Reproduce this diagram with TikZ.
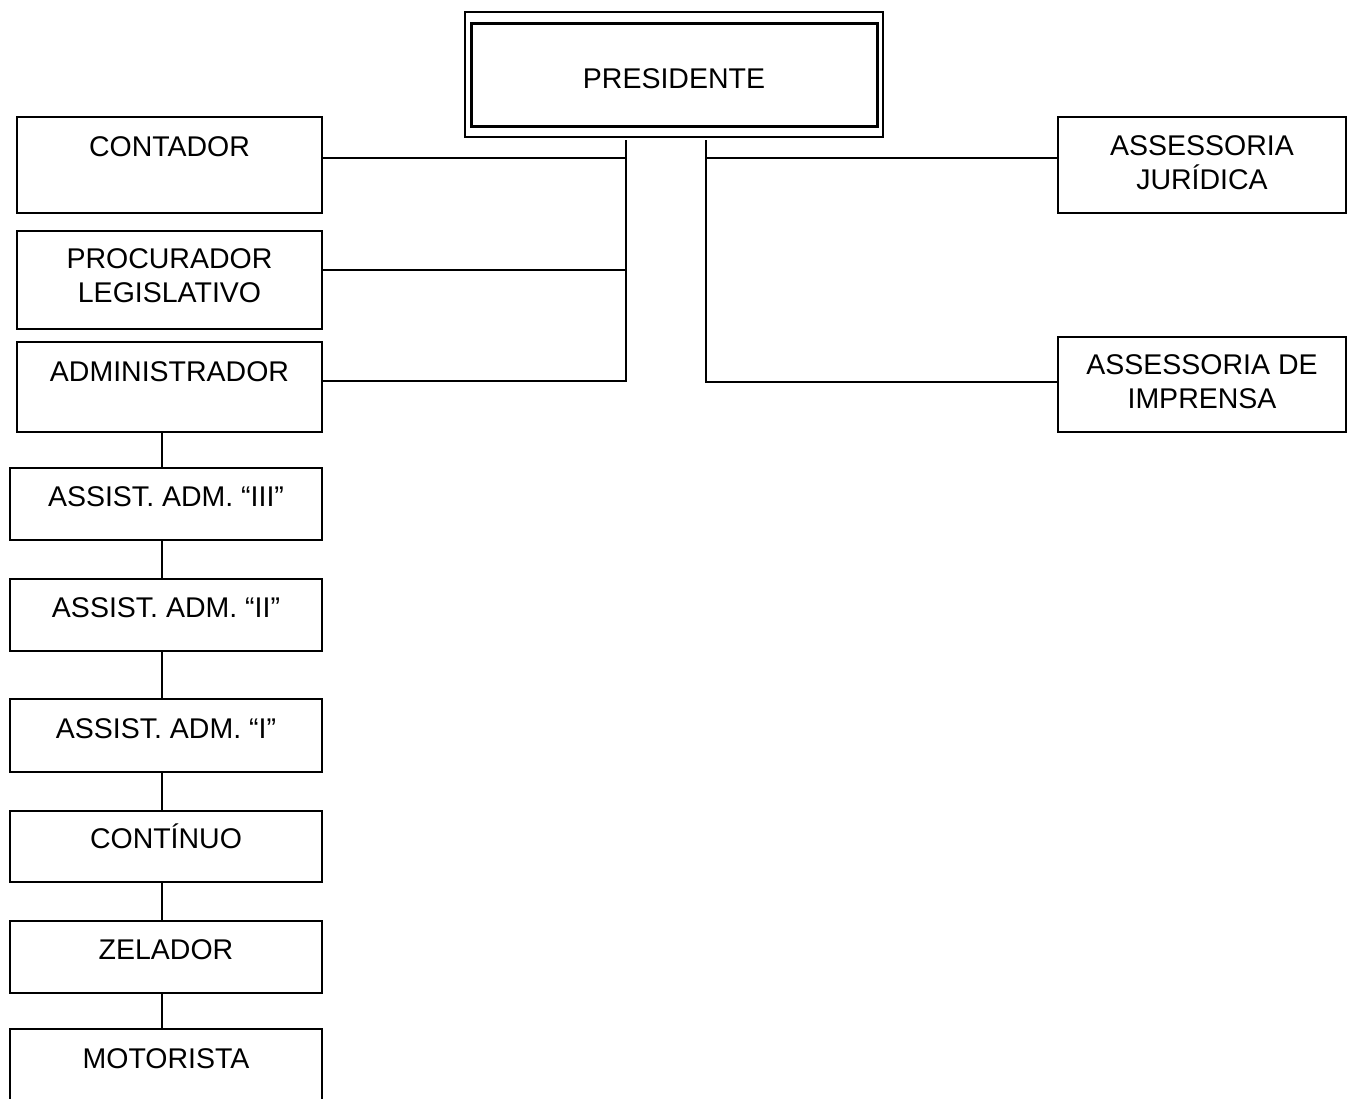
\documentclass[tikz,border=0pt]{standalone}
\usepackage{fontspec}
\setmainfont{Liberation Sans}
\begin{document}
\begin{tikzpicture}[x=1pt,y=-1pt,
  every node/.style={font=\fontsize{28.5}{34}\selectfont},
  box/.style={draw, line width=1.8pt, inner xsep=0pt, inner ysep=0pt, outer sep=0pt, align=center, anchor=north west},
  link/.style={line width=1.8pt}]
\useasboundingbox (0,0) rectangle (1355,1098);
\clip (0,0) rectangle (1355,1098);
\fill[white] (0,0) rectangle (1355,1098);

% president
\node[box, line width=3pt, minimum width=406pt, text height=65pt, text depth=38pt] (pres) at (471,23) {PRESIDENTE};
\draw[line width=1.6pt] ([shift={(-6,-11)}]pres.north west) rectangle ([shift={(6,11)}]pres.south east);

% left upper boxes
\node[box, minimum width=305pt, text height=39pt, text depth=57pt] (cont) at (17,117) {CONTADOR};
\node[box, minimum width=305pt, text height=71pt, text depth=27pt] (proc) at (17,231) {PROCURADOR\\LEGISLATIVO};
\node[box, minimum width=305pt, text height=39pt, text depth=51pt] (adm) at (17,342) {ADMINISTRADOR};

% right boxes
\node[box, minimum width=288pt, text height=72pt, text depth=24pt] (jur) at (1058,117) {ASSESSORIA\\JURÍDICA};
\node[box, minimum width=288pt, text height=71pt, text depth=24pt] (imp) at (1058,337) {ASSESSORIA DE\\IMPRENSA};

% lower chain
\node[box, minimum width=312pt, text height=38pt, text depth=34pt] (a3) at (10,468) {ASSIST. ADM. “III”};
\node[box, minimum width=312pt, text height=38pt, text depth=34pt] (a2) at (10,579) {ASSIST. ADM. “II”};
\node[box, minimum width=312pt, text height=39pt, text depth=34pt] (a1) at (10,699) {ASSIST. ADM. “I”};
\node[box, minimum width=312pt, text height=37pt, text depth=34pt] (cnt) at (10,811) {CONTÍNUO};
\node[box, minimum width=312pt, text height=38pt, text depth=34pt] (zel) at (10,921) {ZELADOR};
\node[box, minimum width=312pt, text height=39pt, text depth=60pt] (mot) at (10,1029) {MOTORISTA};

% connector coordinates
\coordinate (lt) at (626,140);
\coordinate (rt) at (706,140);
\coordinate (sp) at (162,0);
\coordinate (c1) at ([yshift=-41pt]cont.north east);
\coordinate (p1) at ([yshift=-39pt]proc.north east);
\coordinate (d1) at ([yshift=-39pt]adm.north east);
\coordinate (j1) at ([yshift=-41pt]jur.north west);
\coordinate (i1) at ([yshift=-45pt]imp.north west);

% left trunk
\draw[link] (lt) |- (d1);
\draw[link] (c1) -- (c1 -| lt);
\draw[link] (p1) -- (p1 -| lt);

% right trunk
\draw[link] (rt) |- (i1);
\draw[link] (j1) -- (j1 -| rt);

% chain
\draw[link] (adm.south -| sp) -- (a3.north -| sp);
\draw[link] (a3.south -| sp) -- (a2.north -| sp);
\draw[link] (a2.south -| sp) -- (a1.north -| sp);
\draw[link] (a1.south -| sp) -- (cnt.north -| sp);
\draw[link] (cnt.south -| sp) -- (zel.north -| sp);
\draw[link] (zel.south -| sp) -- (mot.north -| sp);
\end{tikzpicture}
\end{document}
